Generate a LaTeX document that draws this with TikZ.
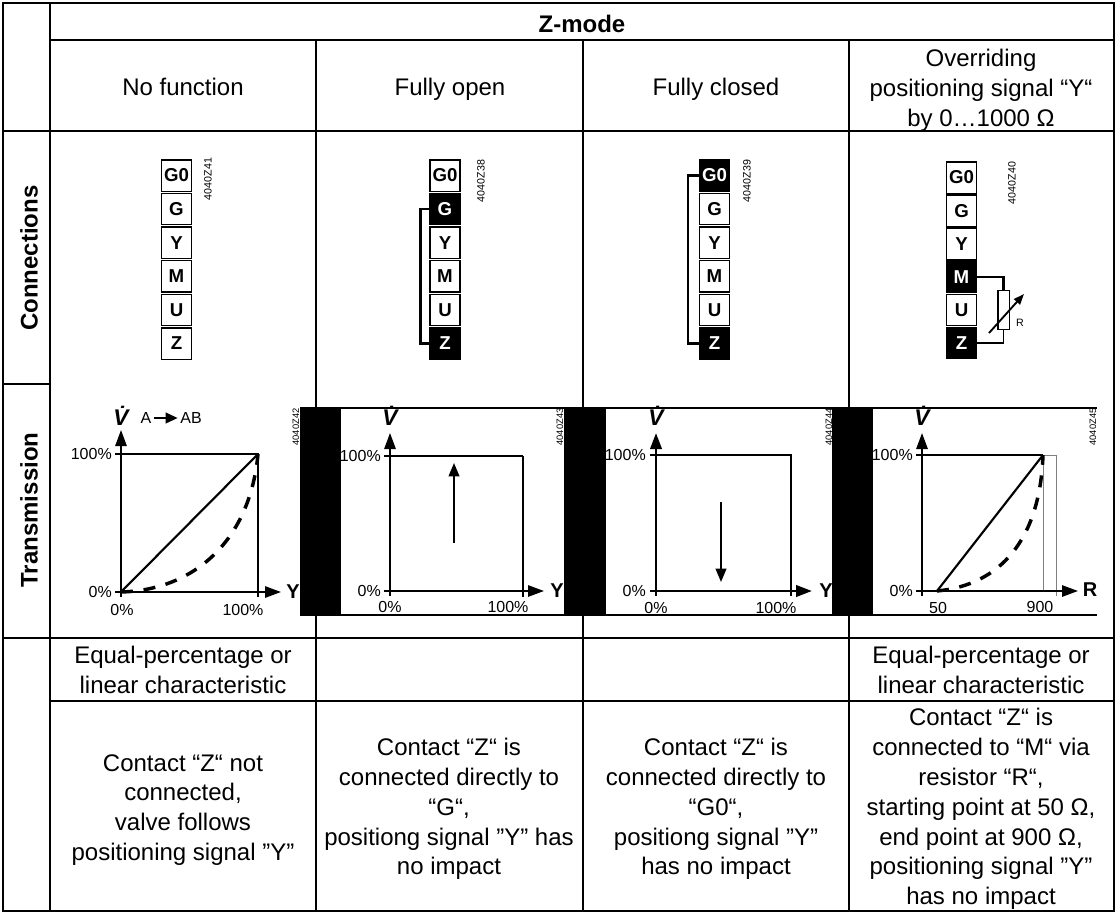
\documentclass[tikz,border=0pt]{standalone}
\usepackage{fontspec}
\setmainfont{Liberation Sans}
\usetikzlibrary{arrows.meta}
\newcommand{\bodysize}{\fontsize{18}{22.4}\selectfont}
\tikzset{
    gridline/.style = {line width = 1.9pt},
    cell/.style = {font = \bodysize, align = center, inner sep = 0pt},
    headcell/.style = {font = \bodysize\bfseries, inner sep = 0pt},
    term/.style = {draw, line width = 1pt, minimum width = 22.5pt, minimum height = 23.5pt, inner sep = 0pt, font = \fontsize{14}{14}\selectfont\bfseries},
    off/.style = {fill = white, text = black},
    on/.style = {fill = black, text = white},
    wire/.style = {line width = 1.8pt},
    code/.style = {font = \fontsize{8}{8}\selectfont, rotate = 90, inner sep = 0pt},
    smallcode/.style = {font = \fontsize{7}{7}\selectfont, rotate = 90, inner sep = 0pt},
    tick/.style = {font = \fontsize{12}{12}\selectfont, inner sep = 0pt},
    axisname/.style = {font = \fontsize{15}{15}\selectfont\bfseries, inner sep = 0pt},
    vdot/.style = {font = \fontsize{17}{17}\selectfont\bfseries\itshape, inner sep = 0pt},
    axis/.style = {line width = 1.4pt, -{Triangle[length = 12pt, width = 8.5pt]}},
    boldaxis/.style = {line width = 2.1pt, -{Triangle[length = 12pt, width = 8.5pt]}},
    frame/.style = {line width = 0.9pt},
    grayframe/.style = {line width = 0.7pt, gray},
    heavy/.style = {line width = 2.2pt},
    charline/.style = {line width = 1.6pt},
    chardash/.style = {line width = 2.6pt, dash pattern = on 9pt off 8pt},
    move/.style = {line width = 1.4pt, -{Triangle[length = 10pt, width = 8pt]}}
}
\begin{document}
\begin{tikzpicture}[x = 0.75pt, y = -0.75pt]
    \useasboundingbox (0, 0) rectangle (1116, 914);

    \draw [gridline] (3, 3) rectangle (1114, 911);
    \draw [gridline] (50, 3) -- (50, 911);
    \draw [gridline] (50, 40) -- (1114, 40);
    \draw [gridline] (3, 131) -- (1114, 131);
    \draw [gridline] (3, 384) -- (50, 384);
    \draw [gridline] (3, 638) -- (1114, 638);
    \draw [gridline] (50, 701) -- (1114, 701);
    \foreach \x in {316, 583, 849}
        \draw [gridline] (\x, 40) -- (\x, 911);

    \node [headcell] (zmode) at (582, 24) {Z-mode};
    \node [cell] (nofunction) at (183, 87) {No function};
    \node [cell] (fullyopen) at (450, 89) {Fully open};
    \node [cell] (fullyclosed) at (716, 89) {Fully closed};
    \node [cell] (overriding) at (981, 90) {Overriding\\positioning signal “Y“\\by 0…1000 Ω};
    \node [headcell, rotate = 90] (connections) at (29, 258) {Connections};
    \node [headcell, rotate = 90] (transmission) at (29, 510) {Transmission};

    \foreach \name/\lbl/\sty [count = \i from 0] in {g0/G0/off, g/G/off, y/Y/off, m/M/off, u/U/off, z/Z/off}
        \node [term, \sty] (nf\name) at (176.5, 175.5 + 33.6 * \i) {\lbl};
    \foreach \name/\lbl/\sty [count = \i from 0] in {g0/G0/off, g/G/on, y/Y/off, m/M/off, u/U/off, z/Z/on}
        \node [term, \sty] (fo\name) at (445, 175.5 + 33.6 * \i) {\lbl};
    \foreach \name/\lbl/\sty [count = \i from 0] in {g0/G0/on, g/G/off, y/Y/off, m/M/off, u/U/off, z/Z/on}
        \node [term, \sty] (fc\name) at (714.5, 175.5 + 33.6 * \i) {\lbl};
    \foreach \name/\lbl/\sty [count = \i from 0] in {g0/G0/off, g/G/off, y/Y/off, m/M/on, u/U/off, z/Z/on}
        \node [term, \sty] (or\name) at (961.5, 177.5 + 33.1 * \i) {\lbl};

    \draw [wire] (fog.west) -- ++(-9, 0) |- (foz.west);
    \draw [wire] (fcg0.west) -- ++(-11, 0) |- (fcz.west);
    \node [draw, line width = 1pt, minimum width = 8.5pt, minimum height = 29.5pt, inner sep = 0pt] (resistor) at (1003.5, 310) {};
    \draw [wire] (orm.east) -| (resistor.north);
    \draw [wire, line width = 1pt] (orz.east) -| (resistor.south);
    \coordinate (rstart) at (989, 333);
    \coordinate (rend) at (1024, 294);
    \draw [wire, line width = 1.4pt, -{Triangle[length = 8pt, width = 6pt]}] (rstart) -- (rend);
    \node [inner sep = 0pt, font = \fontsize{8}{8}\selectfont] (rname) at (1020, 323) {R};

    \node [code] (codea) at (208, 179) {4040Z41};
    \node [code] (codeb) at (481, 181) {4040Z38};
    \node [code] (codec) at (747, 181) {4040Z39};
    \node [code] (coded) at (1012, 183) {4040Z40};

    \fill (300, 408) rectangle (341, 615);
    \fill (564, 408) rectangle (606, 615);
    \fill (832, 408) rectangle (873, 615);
    \draw [frame] (300, 408) -- (832, 408);
    \draw [frame] (300, 615) -- (832, 615);
    \draw [heavy] (832, 408) -- (1097, 408);
    \draw [heavy] (832, 615) -- (1097, 615);

    \draw [frame] (121, 454) -| (258, 597);
    \draw [frame] (115, 454) -- (121, 454);
    \draw [axis] (115, 592) -- (281, 592);
    \draw [axis] (121, 597) -- (121, 430);
    \draw [charline] (121, 592) -- (258, 454);
    \draw [chardash] (121, 592) .. controls (195, 590) and (250, 540) .. (258, 454);
    \node [vdot] (va) at (121, 416) {V̇};
    \node [tick, outer sep = 2pt] (flowa) at (146, 418) {A};
    \node [tick, outer sep = 2pt] (flowab) at (191, 418) {AB};
    \draw [line width = 1.4pt, -{Triangle[length = 9pt, width = 8pt]}] (flowa.east) -- (flowab.west);
    \node [tick, anchor = east] (topa) at (112, 454) {100\%};
    \node [tick, anchor = east] (zeroa) at (112, 592) {0\%};
    \node [tick] (lefta) at (122, 610) {0\%};
    \node [tick] (righta) at (243, 610) {100\%};
    \node [axisname] (ya) at (293, 592) {Y};
    \node [smallcode] (codee) at (296, 427) {4040Z42};

    \draw [frame] (523, 456) -- (523, 597);
    \draw [frame] (384, 456) -- (390, 456);
    \draw [axis] (384, 591) -- (544, 591);
    \draw [axis] (390, 596) -- (390, 433);
    \draw [heavy] (390, 456) -- (523, 456);
    \draw [move] (454, 543) -- (454, 463);
    \node [vdot] (vb) at (390, 416) {V̇};
    \node [tick, anchor = east] (topb) at (381, 456) {100\%};
    \node [tick, anchor = east] (zerob) at (381, 591) {0\%};
    \node [tick] (leftb) at (390, 607) {0\%};
    \node [tick] (rightb) at (508, 607) {100\%};
    \node [axisname] (yb) at (557, 591) {Y};
    \node [smallcode] (codef) at (560, 427) {4040Z43};

    \draw [frame] (650, 455) -- (791, 455) -- (791, 596);
    \draw [boldaxis] (650, 591) -- (812, 591);
    \draw [boldaxis] (656, 596) -- (656, 433);
    \draw [move] (721, 502) -- (721, 582);
    \node [vdot] (vc) at (656, 416) {V̇};
    \node [tick, anchor = east] (topc) at (646, 455) {100\%};
    \node [tick, anchor = east] (zeroc) at (646, 591) {0\%};
    \node [tick] (leftc) at (656, 608) {0\%};
    \node [tick] (rightc) at (776, 608) {100\%};
    \node [axisname] (yc) at (826, 591) {Y};
    \node [smallcode] (codeg) at (829, 427) {4040Z44};

    \draw [grayframe] (1043, 455) -| (1056, 596);
    \draw [grayframe] (1043, 455) -- (1043, 591);
    \draw [frame] (916, 455) -- (1043, 455);
    \draw [axis] (916, 591) -- (1078, 591);
    \draw [axis] (922, 596) -- (922, 433);
    \draw [charline] (937, 591) -- (1043, 455);
    \draw [chardash] (937, 591) .. controls (1000, 585) and (1040, 540) .. (1043, 455);
    \node [vdot] (vd) at (922, 416) {V̇};
    \node [tick, anchor = east] (topd) at (913, 455) {100\%};
    \node [tick, anchor = east] (zerod) at (913, 591) {0\%};
    \node [tick] (leftd) at (938, 608) {50};
    \node [tick] (rightd) at (1040, 607) {900};
    \node [axisname] (rd) at (1090, 590) {R};
    \node [smallcode] (codeh) at (1093, 427) {4040Z45};

    \node [cell] (chara) at (183, 670) {Equal-percentage or\\linear characteristic};
    \node [cell] (chard) at (981, 670) {Equal-percentage or\\linear characteristic};
    \node [cell] (texta) at (183, 810) {Contact “Z“ not\\connected,\\valve follows\\positioning signal ”Y”};
    \node [cell] (textb) at (449, 809) {Contact “Z“ is\\connected directly to\\“G“,\\positiong signal ”Y” has\\no impact};
    \node [cell] (textc) at (716, 809) {Contact “Z“ is\\connected directly to\\“G0“,\\positiong signal ”Y”\\has no impact};
    \node [cell] (textd) at (981, 809) {Contact “Z“ is\\connected to “M“ via\\resistor “R“,\\starting point at 50 Ω,\\end point at 900 Ω,\\positioning signal ”Y”\\has no impact};
\end{tikzpicture}
\end{document}
